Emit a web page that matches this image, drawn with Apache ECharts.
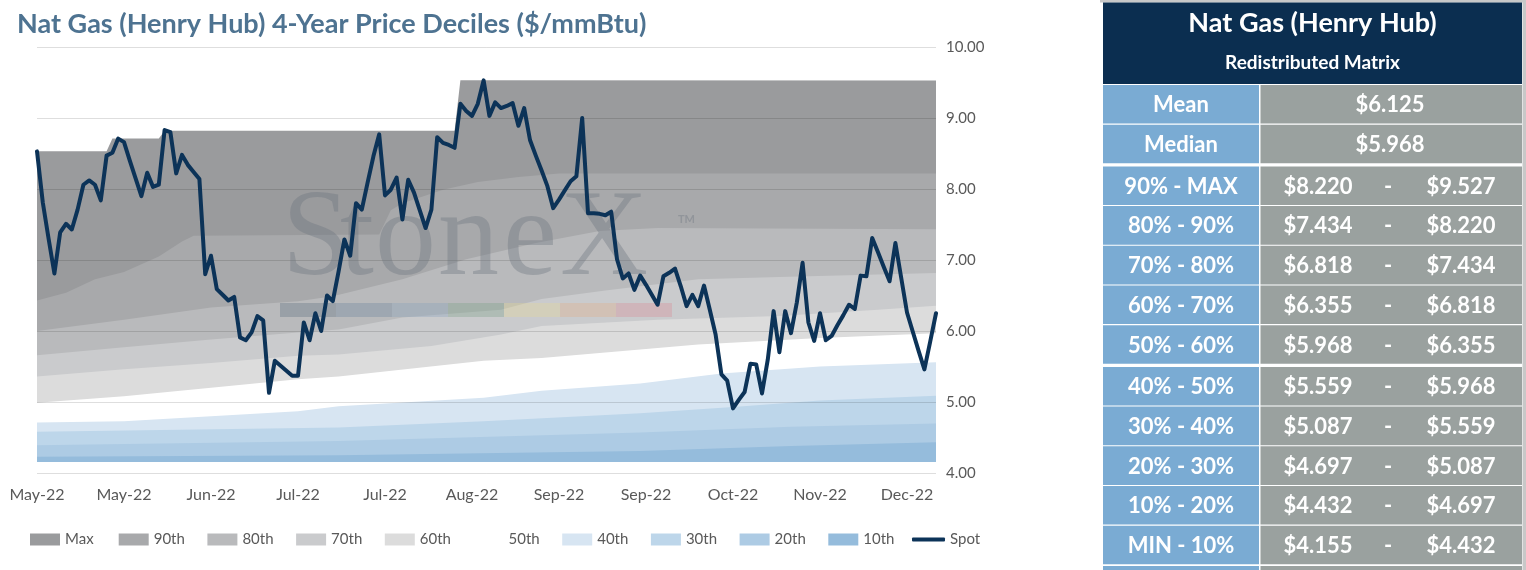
<!DOCTYPE html>
<html>
<head>
<meta charset="utf-8">
<title>Nat Gas (Henry Hub) 4-Year Price Deciles</title>
<script src="https://cdn.jsdelivr.net/npm/echarts@6/dist/echarts.min.js"></script>
<style>
html, body { margin: 0; padding: 0; background: #fff; }
#main { width: 1526px; height: 570px; }
</style>
</head>
<body>
<div id="main"></div>
<script>
// tick labels, one every 15 trading days
var xLabels = ['May-22', 'May-22', 'Jun-22', 'Jul-22', 'Jul-22', 'Aug-22', 'Sep-22', 'Sep-22', 'Oct-22', 'Nov-22', 'Dec-22'];

// daily spot ($/mmBtu), trading day 0..155
var spot = [
  8.53, 7.81, 7.30, 6.81, 7.39, 7.51, 7.43, 7.71, 8.06, 8.12,
  8.06, 7.84, 8.47, 8.51, 8.71, 8.66, 8.40, 8.15, 7.90, 8.23,
  8.03, 8.06, 8.83, 8.80, 8.22, 8.48, 8.34, 8.24, 8.14, 6.80,
  7.06, 6.59, 6.51, 6.43, 6.48, 5.91, 5.87, 5.98, 6.21, 6.15,
  5.13, 5.58, 5.51, 5.44, 5.37, 5.37, 6.12, 5.87, 6.25, 6.00,
  6.50, 6.42, 6.84, 7.29, 7.06, 7.80, 7.71, 8.09, 8.46, 8.77,
  7.91, 7.99, 8.16, 7.57, 8.13, 7.95, 7.70, 7.45, 7.71, 8.73,
  8.65, 8.62, 8.58, 9.20, 9.10, 9.03, 9.20, 9.53, 9.03, 9.22,
  9.14, 9.17, 9.21, 8.89, 9.14, 8.69, 8.47, 8.26, 8.04, 7.73,
  7.85, 7.98, 8.11, 8.18, 9.00, 7.66, 7.66, 7.65, 7.63, 7.68,
  7.01, 6.74, 6.81, 6.58, 6.78, 6.65, 6.51, 6.37, 6.77, 6.82,
  6.88, 6.63, 6.35, 6.51, 6.35, 6.64, 6.30, 5.95, 5.39, 5.30,
  4.91, 5.03, 5.14, 5.54, 5.53, 5.12, 5.60, 6.28, 5.70, 6.28,
  5.97, 6.40, 6.96, 6.12, 5.86, 6.25, 5.87, 5.93, 6.08, 6.22,
  6.37, 6.31, 6.78, 6.77, 7.31, 7.11, 6.90, 6.70, 7.24, 6.75,
  6.26, 5.99, 5.72, 5.46, 5.85, 6.25
];

// 4-year decile curves, [trading day, level]
var bandMax = [[0, 8.53], [12, 8.53], [13, 8.71], [21, 8.71], [22, 8.82], [72, 8.82], [73, 9.53], [155, 9.527]];
var band90 = [[0, 6.43], [5, 6.54], [10, 6.73], [15, 6.83], [21, 7.05], [25, 7.26], [27, 7.34], [59, 7.36], [61, 7.70], [63, 7.80], [70, 7.99], [76, 8.10], [83, 8.17], [90, 8.22], [155, 8.220]];
var band80 = [[0, 6.00], [15, 6.16], [30, 6.33], [45, 6.42], [51, 6.49], [63, 6.73], [74, 7.01], [86, 7.24], [97, 7.41], [107, 7.45], [155, 7.434]];
var band70 = [[0, 5.66], [15, 5.77], [30, 5.88], [45, 5.98], [52, 6.02], [63, 6.19], [80, 6.30], [87, 6.45], [98, 6.57], [114, 6.73], [128, 6.76], [155, 6.818]];
var band60 = [[0, 5.36], [15, 5.46], [30, 5.55], [45, 5.65], [52, 5.67], [68, 5.79], [80, 5.95], [87, 6.07], [107, 6.16], [128, 6.21], [145, 6.30], [155, 6.355]];
var band50 = [[0, 4.99], [15, 5.08], [30, 5.20], [45, 5.32], [52, 5.36], [77, 5.58], [87, 5.62], [104, 5.74], [114, 5.81], [135, 5.90], [155, 5.968]];
var band40 = [[0, 4.71], [15, 4.73], [30, 4.80], [45, 4.87], [52, 4.94], [77, 5.06], [87, 5.16], [104, 5.26], [118, 5.40], [135, 5.50], [155, 5.559]];
var band30 = [[0, 4.58], [52, 4.64], [77, 4.73], [104, 4.84], [120, 4.93], [135, 5.02], [155, 5.087]];
var band20 = [[0, 4.39], [52, 4.45], [104, 4.57], [130, 4.65], [155, 4.697]];
var band10 = [[0, 4.23], [52, 4.25], [104, 4.31], [130, 4.38], [155, 4.432]];
var bandMin = [[0, 4.155], [155, 4.155]];

// matrix on the right
var statLabels = ['Mean', 'Median'];
var statValues = [6.125, 5.968];
var rangeLabels = ['90% - MAX', '80% - 90%', '70% - 80%', '60% - 70%', '50% - 60%', '40% - 50%', '30% - 40%', '20% - 30%', '10% - 20%', 'MIN - 10%'];
var rangeLow = [8.220, 7.434, 6.818, 6.355, 5.968, 5.559, 5.087, 4.697, 4.432, 4.155];
var rangeHigh = [9.527, 8.220, 7.434, 6.818, 6.355, 5.968, 5.559, 5.087, 4.697, 4.432];

var FONT = 'Lato, "Open Sans", sans-serif';
var TXT = '#595959';
var NAVY = '#0c3358';

var bands = [
  {name: 'Max', data: bandMax, color: '#9a9b9d'},
  {name: '90th', data: band90, color: '#a8a9ab'},
  {name: '80th', data: band80, color: '#b9babc'},
  {name: '70th', data: band70, color: '#cacbcd'},
  {name: '60th', data: band60, color: '#dcdcdc'},
  {name: '50th', data: band50, color: '#ffffff'},
  {name: '40th', data: band40, color: '#d7e5f2'},
  {name: '30th', data: band30, color: '#bdd6ea'},
  {name: '20th', data: band20, color: '#adcbe4'},
  {name: '10th', data: band10, color: '#95bcdc'},
  {name: 'Min', data: bandMin, color: '#ffffff'}
];

var chartSeries = bands.map(function (b) {
  return {
    name: b.name, type: 'line', data: b.data, symbol: 'none', silent: true,
    lineStyle: {opacity: 0}, itemStyle: {color: b.color},
    areaStyle: {color: b.color, opacity: 1, origin: 'start'}, z: 2
  };
});
chartSeries.push({
  name: 'Spot', type: 'line', symbol: 'none', z: 6,
  data: spot.map(function (v, i) { return [i, v]; }),
  itemStyle: {color: NAVY},
  lineStyle: {color: NAVY, width: 4, cap: 'round', join: 'round'}
});

// one legend per entry so the spacing is even, like the original
var legendText = {color: TXT, fontSize: 15, fontFamily: FONT};
var legends = bands.slice(0, 10).map(function (b, i) {
  return {
    left: 25 + i * 88.7, top: 527, itemWidth: 30, itemHeight: 12, textStyle: legendText,
    data: [{name: b.name, icon: 'rect', itemStyle: {color: b.color}}]
  };
});
legends.push({
  left: 907, top: 527, itemWidth: 33, itemHeight: 4, textStyle: legendText,
  data: [{name: 'Spot', icon: 'roundRect', itemStyle: {color: NAVY}}]
});

// graphic: watermark + matrix table
var gfx = [];
var wmFill = 'rgba(105,115,126,0.36)';
[['S', 282], ['t', 340], ['o', 375], ['n', 438], ['e', 503], ['X', 560]].forEach(function (l) {
  gfx.push({type: 'text', z: 4, silent: true, style: {text: l[0], x: l[1], y: 242, verticalAlign: 'middle', font: '122px "Liberation Serif", serif', fill: wmFill}});
});
gfx.push({type: 'text', z: 4, silent: true, style: {text: 'TM', x: 678, y: 219, verticalAlign: 'middle', font: 'bold 11px ' + FONT, fill: wmFill}});
['#4f6378', '#5f7a98', '#7f9bbb', '#6f9a7e', '#e9dc8f', '#e6ac7e', '#d9838f'].forEach(function (c, i) {
  gfx.push({type: 'rect', z: 4, silent: true, shape: {x: 280 + i * 56, y: 303, width: 56, height: 14}, style: {fill: c, opacity: 0.3}});
});

var tX = 1103, tSplit = 1259, tRight = 1522;
gfx.push({type: 'rect', shape: {x: 1100, y: 0, width: 426, height: 2.5}, style: {fill: '#c8c8c8'}});
gfx.push({type: 'rect', shape: {x: 1522.5, y: 0, width: 3.5, height: 570}, style: {fill: '#c8c8c8'}});
gfx.push({type: 'rect', shape: {x: tX, y: 2.5, width: tRight - tX, height: 81.5}, style: {fill: '#0b2e50'}});
gfx.push({type: 'text', style: {text: 'Nat Gas (Henry Hub)', x: (tX + tRight) / 2, y: 23, align: 'center', verticalAlign: 'middle', font: 'bold 27px ' + FONT, fill: '#fff'}});
gfx.push({type: 'text', style: {text: 'Redistributed Matrix', x: (tX + tRight) / 2, y: 63, align: 'center', verticalAlign: 'middle', font: 'bold 19px ' + FONT, fill: '#fff'}});

var rowLabels = statLabels.concat(rangeLabels);
function money(v) { return '$' + v.toFixed(3); }
for (var k = 0; k < rowLabels.length; k++) {
  var rowTop = 85 + k * 39.7 + (k >= 2 ? 2 : 0) + (k >= 7 ? 2 : 0);
  var rowH = 38.6, cy = rowTop + rowH / 2 + 1;
  gfx.push({type: 'rect', shape: {x: tX, y: rowTop, width: tSplit - tX, height: rowH}, style: {fill: '#7aabd3'}});
  gfx.push({type: 'rect', shape: {x: tSplit + 1.5, y: rowTop, width: tRight - tSplit - 1.5, height: rowH}, style: {fill: '#9aa19f'}});
  var cellFont = {align: 'center', verticalAlign: 'middle', font: 'bold 22px ' + FONT, fill: '#fff'};
  gfx.push({type: 'text', style: Object.assign({text: rowLabels[k], x: (tX + tSplit) / 2, y: cy}, cellFont)});
  if (k < 2) {
    gfx.push({type: 'text', style: Object.assign({text: money(statValues[k]), x: 1390, y: cy}, cellFont)});
  } else {
    gfx.push({type: 'text', style: Object.assign({text: money(rangeLow[k - 2]), x: 1318, y: cy}, cellFont)});
    gfx.push({type: 'text', style: Object.assign({text: '-', x: 1388, y: cy}, cellFont)});
    gfx.push({type: 'text', style: Object.assign({text: money(rangeHigh[k - 2]), x: 1461, y: cy}, cellFont)});
  }
}
gfx.push({type: 'rect', shape: {x: tX, y: 566, width: tSplit - tX, height: 4}, style: {fill: '#7aabd3'}});
gfx.push({type: 'rect', shape: {x: tSplit + 1.5, y: 566, width: tRight - tSplit - 1.5, height: 4}, style: {fill: '#9aa19f'}});

var myChart = echarts.init(document.getElementById('main'));
myChart.setOption({
  animation: false,
  backgroundColor: '#fff',
  title: {
    text: 'Nat Gas (Henry Hub) 4-Year Price Deciles ($/mmBtu)',
    left: 12, top: 6,
    textStyle: {color: '#4e7391', fontSize: 27, fontWeight: 'bold', fontFamily: FONT}
  },
  grid: {left: 37, right: 590, top: 47, bottom: 97},
  xAxis: {
    type: 'value', min: 0, max: 155, interval: 15,
    axisLine: {show: false}, axisTick: {show: false}, splitLine: {show: false},
    axisLabel: {
      margin: 14, color: TXT, fontSize: 16, fontFamily: FONT, showMaxLabel: false,
      formatter: function (v) { return v % 15 === 0 ? xLabels[v / 15] : ''; }
    }
  },
  yAxis: {
    type: 'value', position: 'right', min: 4, max: 10, interval: 1, z: 3,
    axisLine: {show: false}, axisTick: {show: false},
    splitLine: {lineStyle: {color: 'rgba(0,0,0,0.13)', width: 1}},
    axisLabel: {margin: 10, color: TXT, fontSize: 15, fontFamily: FONT, formatter: function (v) { return v.toFixed(2); }}
  },
  legend: legends,
  graphic: {elements: gfx},
  series: chartSeries
});

window.onresize = function () {
  myChart.resize();
};
</script>
</body>
</html>
